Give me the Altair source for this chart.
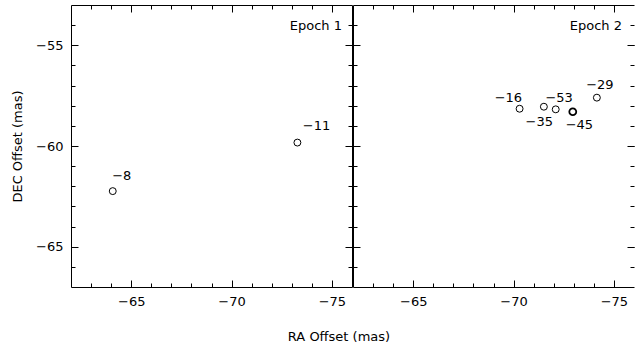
import altair as alt
import pandas as pd

# ---- data ----
ra_epoch1 = [-64.08, -73.28]
dec_epoch1 = [-62.24, -59.83]
labels_epoch1 = ["−8", "−11"]
label_ra_epoch1 = [-64.53, -74.23]
label_dec_epoch1 = [-61.48, -59.02]

ra_epoch2 = [-70.30, -71.51, -72.10, -72.95, -74.15]
dec_epoch2 = [-58.15, -58.05, -58.18, -58.30, -57.60]
labels_epoch2 = ["−16", "−35", "−53", "−45", "−29"]
label_ra_epoch2 = [-69.74, -71.28, -72.27, -73.28, -74.30]
label_dec_epoch2 = [-57.64, -58.81, -57.64, -58.94, -56.96]

ra_domain = [-62, -76]
dec_domain = [-67, -53]
ra_major = [-65, -70, -75]
ra_minor = [-63, -64, -65, -66, -67, -68, -69, -70, -71, -72, -73, -74, -75]
dec_major = [-55, -60, -65]
dec_minor = [-54, -55, -56, -57, -58, -59, -60, -61, -62, -63, -64, -65, -66]

FONT = "DejaVu Sans"
FS = 13
W, H = 281, 282
MAJOR, MINOR = 7, 4


def tick_axis(orient, values, size, domain=False):
    return alt.Axis(
        orient=orient, values=values, tickSize=alt.ExprRef(expr=str(-size)),
        ticks=True, tickColor="black", tickWidth=1, labels=False,
        domain=domain, domainColor="black", domainWidth=1, grid=False,
        title=None, offset=0,
    )


def panel(ra, dec, labels, lra, ldec, epoch, first, epoch_dx):
    pts = pd.DataFrame({"ra": ra, "dec": dec, "label": labels})
    lab = pd.DataFrame({"ra": lra, "dec": ldec, "label": labels})
    xs = alt.Scale(domain=ra_domain, nice=False, zero=False)
    ys = alt.Scale(domain=dec_domain, nice=False, zero=False)

    xkw = dict(orient="bottom", values=ra_major, ticks=False, domain=True,
               domainColor="black", domainWidth=1, grid=False, labels=True,
               labelFont=FONT, labelFontSize=FS, labelColor="black",
               labelPadding=8, labelFlush=False, offset=0)
    ykw = dict(orient="left", values=dec_major, ticks=False, domain=True,
               domainColor="black", domainWidth=1, grid=False, labels=first,
               labelFont=FONT, labelFontSize=FS, labelColor="black",
               labelPadding=8, labelFlush=False, offset=0)
    if first:
        xkw.update(title="RA Offset (mas)", titleX=267.5, titleY=53.5,
                   titleBaseline="alphabetic", titleAlign="center", titleAngle=0,
                   titleFont=FONT, titleFontSize=FS, titleFontWeight="normal",
                   titleColor="black")
        ykw.update(title="DEC Offset (mas)", titleX=-49.5, titleY=H / 2,
                   titleBaseline="alphabetic", titleAlign="center", titleAngle=270,
                   titleFont=FONT, titleFontSize=FS, titleFontWeight="normal",
                   titleColor="black")
    else:
        xkw.update(title=None)
        ykw.update(title=None)

    circles = alt.Chart(pts).mark_point(
        shape="circle", filled=False, color="black", size=48, opacity=1
    ).encode(
        x=alt.X("ra:Q", scale=xs, axis=alt.Axis(**xkw)),
        y=alt.Y("dec:Q", scale=ys, axis=alt.Axis(**ykw)),
        strokeWidth=alt.condition(alt.datum.label == "−45", alt.value(1.8), alt.value(1)),
    )

    def ticks_layer(xo, yo, xv, yv, size, xdom=False, ydom=False):
        return alt.Chart(pts).mark_point(opacity=0).encode(
            x=alt.X("ra:Q", scale=xs, axis=tick_axis(xo, xv, size, xdom)),
            y=alt.Y("dec:Q", scale=ys, axis=tick_axis(yo, yv, size, ydom)),
        )

    l2 = ticks_layer("bottom", "left", ra_major, dec_major, MAJOR)
    l3 = ticks_layer("bottom", "left", ra_minor, dec_minor, MINOR)
    l4 = ticks_layer("top", "right", ra_major, dec_major, MAJOR, True, first)
    l5 = ticks_layer("top", "right", ra_minor, dec_minor, MINOR)

    texts = alt.Chart(lab).mark_text(
        font=FONT, fontSize=FS, color="black", align="center", baseline="middle"
    ).encode(
        x=alt.X("ra:Q", scale=xs, axis=None),
        y=alt.Y("dec:Q", scale=ys, axis=None),
        text="label:N",
    )

    return alt.layer(circles, l2, l3, l4, l5, texts).resolve_axis(
        x="independent", y="independent"
    ).properties(
        width=W, height=H,
        title=alt.TitleParams(
            text=epoch, orient="top", anchor="end", frame="group", offset=-38,
            baseline="alphabetic", dx=epoch_dx, font=FONT, fontSize=FS,
            fontWeight="normal", color="black",
        ),
    )


p1 = panel(ra_epoch1, dec_epoch1, labels_epoch1, label_ra_epoch1,
           label_dec_epoch1, "Epoch 1", True, -10)
p2 = panel(ra_epoch2, dec_epoch2, labels_epoch2, label_ra_epoch2,
           label_dec_epoch2, "Epoch 2", False, -12)

chart = alt.hconcat(p1, p2, spacing=1, bounds="flush").properties(
    padding={"left": 11, "top": 4, "right": 0, "bottom": 0},
    background="white",
).configure_view(strokeWidth=0)

chart.save("out.html", embed_options={"renderer": "svg", "actions": False})
